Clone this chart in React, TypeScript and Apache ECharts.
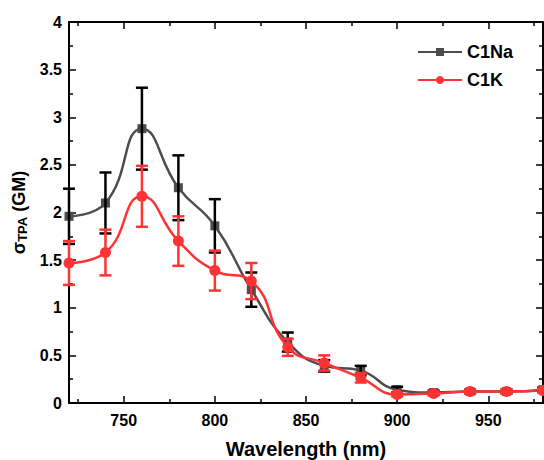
import React, { useEffect, useRef } from "react";
import * as echarts from "echarts";

const wavelengths = [720, 740, 760, 780, 800, 820, 840, 860, 880, 900, 920, 940, 960, 980];
const c1naValues = [1.96, 2.1, 2.88, 2.26, 1.86, 1.19, 0.64, 0.39, 0.34, 0.14, 0.11, 0.12, 0.12, 0.14];
const c1naErrors = [0.29, 0.32, 0.43, 0.34, 0.28, 0.18, 0.1, 0.06, 0.05, 0.03, 0.02, 0.02, 0.02, 0.02];
const c1kValues = [1.47, 1.58, 2.17, 1.7, 1.39, 1.28, 0.585, 0.42, 0.265, 0.09, 0.1, 0.12, 0.12, 0.13];
const c1kErrors = [0.23, 0.24, 0.32, 0.26, 0.21, 0.19, 0.09, 0.08, 0.05, 0.02, 0.02, 0.02, 0.02, 0.02];
const xMajorTicks = [750, 800, 850, 900, 950];
const xMinorTicks = [725, 775, 825, 875, 925, 975];

const GRAY = "#4d4d4d";
const RED = "#ff3333";
const FONT = "'Liberation Sans', Arial, sans-serif";

function errorSeries(name: string, values: number[], errors: number[], color: string, z: number) {
  return {
    type: "custom",
    name: name + "-err",
    z,
    silent: true,
    clip: false,
    data: wavelengths.map((w, i) => [w, values[i] - errors[i], values[i] + errors[i]]),
    encode: { x: 0, y: [1, 2] },
    renderItem: (params: any, api: any) => {
      const x = api.value(0);
      const lo = api.coord([x, api.value(1)]);
      const hi = api.coord([x, api.value(2)]);
      const half = 6;
      const style = { stroke: color, lineWidth: 2.5 };
      return {
        type: "group",
        children: [
          { type: "line", shape: { x1: lo[0], y1: lo[1], x2: hi[0], y2: hi[1] }, style },
          { type: "line", shape: { x1: hi[0] - half, y1: hi[1], x2: hi[0] + half, y2: hi[1] }, style },
          { type: "line", shape: { x1: lo[0] - half, y1: lo[1], x2: lo[0] + half, y2: lo[1] }, style },
        ],
      };
    },
  };
}

function tickAxis(position: string, values: number[], len: number, showLine: boolean) {
  return {
    type: "value",
    position,
    min: 720,
    max: 980,
    axisLine: { show: showLine, onZero: false, lineStyle: { color: "#000", width: 2 } },
    axisTick: { show: true, inside: true, length: len, customValues: values, lineStyle: { color: "#000", width: 1.5 } },
    axisLabel: { show: false },
    splitLine: { show: false },
  };
}

export default function App() {
  const ref = useRef<HTMLDivElement>(null);
  useEffect(() => {
    if (!ref.current) return;
    const chart = echarts.init(ref.current, null, { renderer: "svg" });
    chart.setOption({
      animation: false,
      backgroundColor: "#fff",
      textStyle: { fontFamily: FONT },
      grid: { left: 69, right: 1, top: 22, bottom: 57, containLabel: false, outerBoundsMode: "none" },
      legend: {
        right: 26,
        top: 38,
        orient: "vertical",
        itemWidth: 44,
        itemHeight: 10,
        itemGap: 10,
        data: ["C1Na", "C1K"],
        textStyle: { fontFamily: FONT, fontWeight: "bold", fontSize: 18, color: "#000" },
      },
      xAxis: [
        {
          type: "value",
          position: "bottom",
          min: 720,
          max: 980,
          name: "Wavelength (nm)",
          nameLocation: "middle",
          nameGap: 36,
          nameTextStyle: { fontFamily: FONT, fontWeight: "bold", fontSize: 20, color: "#000" },
          axisLine: { show: true, onZero: false, lineStyle: { color: "#000", width: 2 } },
          axisTick: { show: true, inside: true, length: 7, customValues: xMajorTicks, lineStyle: { color: "#000", width: 1.5 } },
          axisLabel: { customValues: xMajorTicks, margin: 9, fontFamily: FONT, fontWeight: "bold", fontSize: 16, color: "#000" },
          splitLine: { show: false },
        },
        tickAxis("bottom", xMinorTicks, 4, false),
        tickAxis("top", xMajorTicks, 7, true),
        tickAxis("top", xMinorTicks, 4, false),
      ],
      yAxis: [
        {
          type: "value",
          position: "left",
          min: 0,
          max: 4,
          interval: 0.5,
          name: "{s|σ}{sub|TPA}{s| (GM)}",
          nameLocation: "middle",
          nameGap: 34,
          nameRotate: 90,
          nameTextStyle: {
            rich: {
              s: { fontFamily: FONT, fontWeight: "bold", fontSize: 18, color: "#000" },
              sub: { fontFamily: FONT, fontWeight: "bold", fontSize: 13, color: "#000", verticalAlign: "bottom", padding: [6, 0, 0, 0] },
            },
          },
          axisLine: { show: true, onZero: false, lineStyle: { color: "#000", width: 2 } },
          axisTick: { show: true, inside: true, length: 7, lineStyle: { color: "#000", width: 1.5 } },
          minorTick: { show: true, splitNumber: 2, length: 4, lineStyle: { color: "#000", width: 1.5 } },
          axisLabel: { margin: 7, fontFamily: FONT, fontWeight: "bold", fontSize: 16, color: "#000" },
          splitLine: { show: false },
          minorSplitLine: { show: false },
        },
        {
          type: "value",
          position: "right",
          min: 0,
          max: 4,
          interval: 0.5,
          axisLine: { show: true, onZero: false, lineStyle: { color: "#000", width: 2 } },
          axisTick: { show: true, inside: true, length: 7, lineStyle: { color: "#000", width: 1.5 } },
          minorTick: { show: true, splitNumber: 2, length: 4, lineStyle: { color: "#000", width: 1.5 } },
          axisLabel: { show: false },
          splitLine: { show: false },
          minorSplitLine: { show: false },
        },
      ],
      series: [
        {
          type: "line",
          name: "C1Na",
          z: 2,
          smooth: 0.5,
          data: wavelengths.map((w, i) => [w, c1naValues[i]]),
          symbol: "rect",
          symbolSize: 9,
          color: GRAY,
          lineStyle: { color: GRAY, width: 2.5 },
          itemStyle: { color: GRAY },
        },
        errorSeries("C1Na", c1naValues, c1naErrors, "#000", 3),
        {
          type: "line",
          name: "C1K",
          z: 4,
          smooth: 0.5,
          data: wavelengths.map((w, i) => [w, c1kValues[i]]),
          symbol: "circle",
          symbolSize: 11,
          color: RED,
          lineStyle: { color: RED, width: 2.5 },
          itemStyle: { color: RED },
        },
        errorSeries("C1K", c1kValues, c1kErrors, RED, 5),
      ],
    });
    return () => chart.dispose();
  }, []);
  return <div ref={ref} style={{ position: "fixed", left: 0, top: 0, width: 544, height: 460 }} />;
}
